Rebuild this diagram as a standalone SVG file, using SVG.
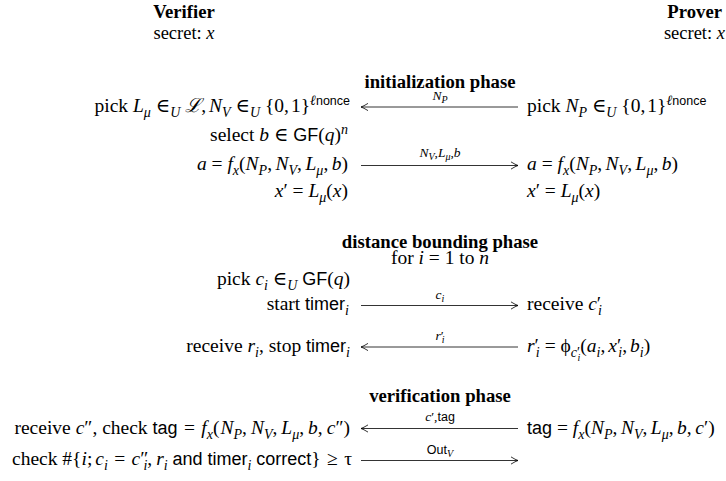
<svg xmlns="http://www.w3.org/2000/svg" width="726" height="481" viewBox="0 0 726 481">
<defs>
<style>
text{font-family:"Liberation Serif","DejaVu Serif",serif;font-size:19.5px;fill:#000}
.b{font-weight:bold;font-size:18.7px}
.h{font-size:18.5px}
.i{font-style:italic}
.sf{font-family:"Liberation Sans","DejaVu Sans",sans-serif;font-size:18px}
.sub{font-size:14px;baseline-shift:-4.5px}
.sup{font-size:14px;baseline-shift:7.5px}
.sfs{font-family:"Liberation Sans","DejaVu Sans",sans-serif;font-size:12.5px}
.lbl{font-size:13.5px;text-anchor:middle}
.ss{font-size:10px;baseline-shift:-3px}
.e{text-anchor:end}
.m{text-anchor:middle}
.c{stroke:#000;stroke-width:0.8;fill:none}
</style>
<marker id="ah" markerUnits="userSpaceOnUse" markerWidth="12" markerHeight="12" viewBox="-9 -6 10 12" refX="0" refY="0" orient="auto">
<path d="M-7,-3.6 Q-2.5,-0.8 0,0 Q-2.5,0.8 -7,3.6" fill="none" stroke="#000" stroke-width="0.8"/>
</marker>
</defs>
<rect width="726" height="481" fill="#fff"/>

<g id="verifier-head">
<text class="b m" x="184" y="18">Verifier</text>
<text class="m h" x="184" y="39">secret: <tspan class="i">x</tspan></text>
</g>
<g id="prover-head">
<text class="b e" x="722" y="18">Prover</text>
<text class="e h" x="725" y="39">secret: <tspan class="i">x</tspan></text>
</g>

<g id="title-init"><text class="b m" x="440" y="88">initialization phase</text></g>
<g id="v-pick"><text class="e" x="350" y="112">pick <tspan class="i">L</tspan><tspan class="sub i">μ</tspan> ∈<tspan class="sub i">U</tspan> <tspan class="i">ℒ</tspan>,<tspan class="i" dx="3">N</tspan><tspan class="sub i">V</tspan> ∈<tspan class="sub i">U</tspan> {0,<tspan dx="2">1}</tspan><tspan class="sup i">ℓ</tspan><tspan class="sup sfs">nonce</tspan></text></g>
<g id="p-pick"><text x="527" y="112">pick <tspan class="i">N</tspan><tspan class="sub i">P</tspan> ∈<tspan class="sub i">U</tspan> {0,<tspan dx="2">1}</tspan><tspan class="sup i">ℓ</tspan><tspan class="sup sfs">nonce</tspan></text></g>
<g id="v-select"><text class="e" x="348" y="141">select <tspan class="i">b</tspan> ∈ <tspan class="sf">GF</tspan>(<tspan class="i">q</tspan>)<tspan class="sup i">n</tspan></text></g>
<g id="v-a"><text class="e" x="348" y="170"><tspan class="i">a</tspan> = <tspan class="i">f</tspan><tspan class="sub i">x</tspan>(<tspan class="i">N</tspan><tspan class="sub i">P</tspan>,<tspan class="i" dx="3.5">N</tspan><tspan class="sub i">V</tspan>,<tspan class="i" dx="3.5">L</tspan><tspan class="sub i">μ</tspan>,<tspan class="i" dx="3.5">b</tspan>)</text></g>
<g id="p-a"><text x="527" y="170"><tspan class="i">a</tspan> = <tspan class="i">f</tspan><tspan class="sub i">x</tspan>(<tspan class="i">N</tspan><tspan class="sub i">P</tspan>,<tspan class="i" dx="3.5">N</tspan><tspan class="sub i">V</tspan>,<tspan class="i" dx="3.5">L</tspan><tspan class="sub i">μ</tspan>,<tspan class="i" dx="3.5">b</tspan>)</text></g>
<g id="v-xp"><text class="e" x="348" y="197"><tspan class="i">x</tspan>′ = <tspan class="i">L</tspan><tspan class="sub i">μ</tspan>(<tspan class="i">x</tspan>)</text></g>
<g id="p-xp"><text x="527" y="197"><tspan class="i">x</tspan>′ = <tspan class="i">L</tspan><tspan class="sub i">μ</tspan>(<tspan class="i">x</tspan>)</text></g>

<g id="title-db">
<text class="b m" x="440" y="248">distance bounding phase</text>
<text class="m" x="440" y="264">for <tspan class="i">i</tspan> = 1 to <tspan class="i">n</tspan></text>
</g>
<g id="v-pickc"><text class="e" x="350" y="285">pick <tspan class="i">c</tspan><tspan class="sub i">i</tspan> ∈<tspan class="sub i">U</tspan> <tspan class="sf">GF</tspan>(<tspan class="i">q</tspan>)</text></g>
<g id="v-start"><text class="e" x="349" y="310">start <tspan class="sf">timer</tspan><tspan class="sub i">i</tspan></text></g>
<g id="p-recv"><text x="527" y="310">receive <tspan class="i">c</tspan>′<tspan class="sub i" dx="-3">i</tspan></text></g>
<g id="v-recv"><text class="e" x="350" y="352">receive <tspan class="i">r</tspan><tspan class="sub i">i</tspan>, stop <tspan class="sf">timer</tspan><tspan class="sub i">i</tspan></text></g>
<g id="p-resp"><text x="527" y="352"><tspan class="i">r</tspan>′<tspan class="sub i" dx="-3">i</tspan> = ϕ<tspan class="sub i">c</tspan><tspan class="sub">′</tspan><tspan class="ss i" dx="-2.5" style="baseline-shift:-9px">i</tspan>(<tspan class="i">a</tspan><tspan class="sub i">i</tspan>,<tspan class="i" dx="3">x</tspan>′<tspan class="sub i" dx="-3">i</tspan>,<tspan class="i" dx="3">b</tspan><tspan class="sub i">i</tspan>)</text></g>

<g id="title-ver"><text class="b m" x="440" y="402">verification phase</text></g>
<g id="v-check-tag"><text class="e" x="350" y="434">receive <tspan class="i">c</tspan>″, check <tspan class="sf">tag</tspan><tspan dx="1.5"> = </tspan><tspan class="i" dx="1.5">f</tspan><tspan class="sub i">x</tspan>(<tspan class="i" dx="1">N</tspan><tspan class="sub i">P</tspan>,<tspan class="i" dx="4">N</tspan><tspan class="sub i">V</tspan>,<tspan class="i" dx="4">L</tspan><tspan class="sub i">μ</tspan>,<tspan class="i" dx="4">b</tspan>,<tspan class="i" dx="4">c</tspan>″)</text></g>
<g id="p-tag"><text x="527" y="434"><tspan class="sf">tag</tspan> = <tspan class="i">f</tspan><tspan class="sub i">x</tspan>(<tspan class="i">N</tspan><tspan class="sub i">P</tspan>,<tspan class="i" dx="3.5">N</tspan><tspan class="sub i">V</tspan>,<tspan class="i" dx="3.5">L</tspan><tspan class="sub i">μ</tspan>,<tspan class="i" dx="3.5">b</tspan>,<tspan class="i" dx="3.5">c</tspan>′)</text></g>
<g id="v-final"><text class="e" x="352" y="465">check #{<tspan class="i">i</tspan>;<tspan class="i" dx="3">c</tspan><tspan class="sub i">i</tspan><tspan dx="1.5"> = </tspan><tspan class="i" dx="1.5">c</tspan>″<tspan class="sub i" dx="-5">i</tspan>,<tspan class="i" dx="4">r</tspan><tspan class="sub i">i</tspan> <tspan class="sf">and timer</tspan><tspan class="sub i">i</tspan> <tspan class="sf">correct</tspan>}<tspan dx="1.5"> ≥ </tspan><tspan dx="1.5">τ</tspan></text></g>

<g id="connectors">
<line class="c" x1="518" y1="107" x2="361" y2="107" marker-end="url(#ah)"/>
<text class="lbl" x="440" y="100"><tspan class="i">N</tspan><tspan class="ss i">P</tspan></text>
<line class="c" x1="361" y1="165.5" x2="518" y2="165.5" marker-end="url(#ah)"/>
<text class="lbl" x="440" y="157"><tspan class="i">N</tspan><tspan class="ss i">V</tspan>,<tspan class="i">L</tspan><tspan class="ss i">μ</tspan>,<tspan class="i">b</tspan></text>
<line class="c" x1="361" y1="305.5" x2="518" y2="305.5" marker-end="url(#ah)"/>
<text class="lbl" x="440" y="299"><tspan class="i">c</tspan><tspan class="ss i">i</tspan></text>
<line class="c" x1="518" y1="347" x2="361" y2="347" marker-end="url(#ah)"/>
<text class="lbl" x="440" y="340"><tspan class="i">r</tspan>′<tspan class="ss i" dx="-2">i</tspan></text>
<line class="c" x1="518" y1="428.5" x2="361" y2="428.5" marker-end="url(#ah)"/>
<text class="lbl" x="440" y="421"><tspan class="i">c</tspan>′,<tspan class="sfs">tag</tspan></text>
<line class="c" x1="361" y1="460.5" x2="518" y2="460.5" marker-end="url(#ah)"/>
<text class="lbl" x="440" y="454"><tspan class="sfs">Out</tspan><tspan class="ss i">V</tspan></text>
</g>
</svg>
